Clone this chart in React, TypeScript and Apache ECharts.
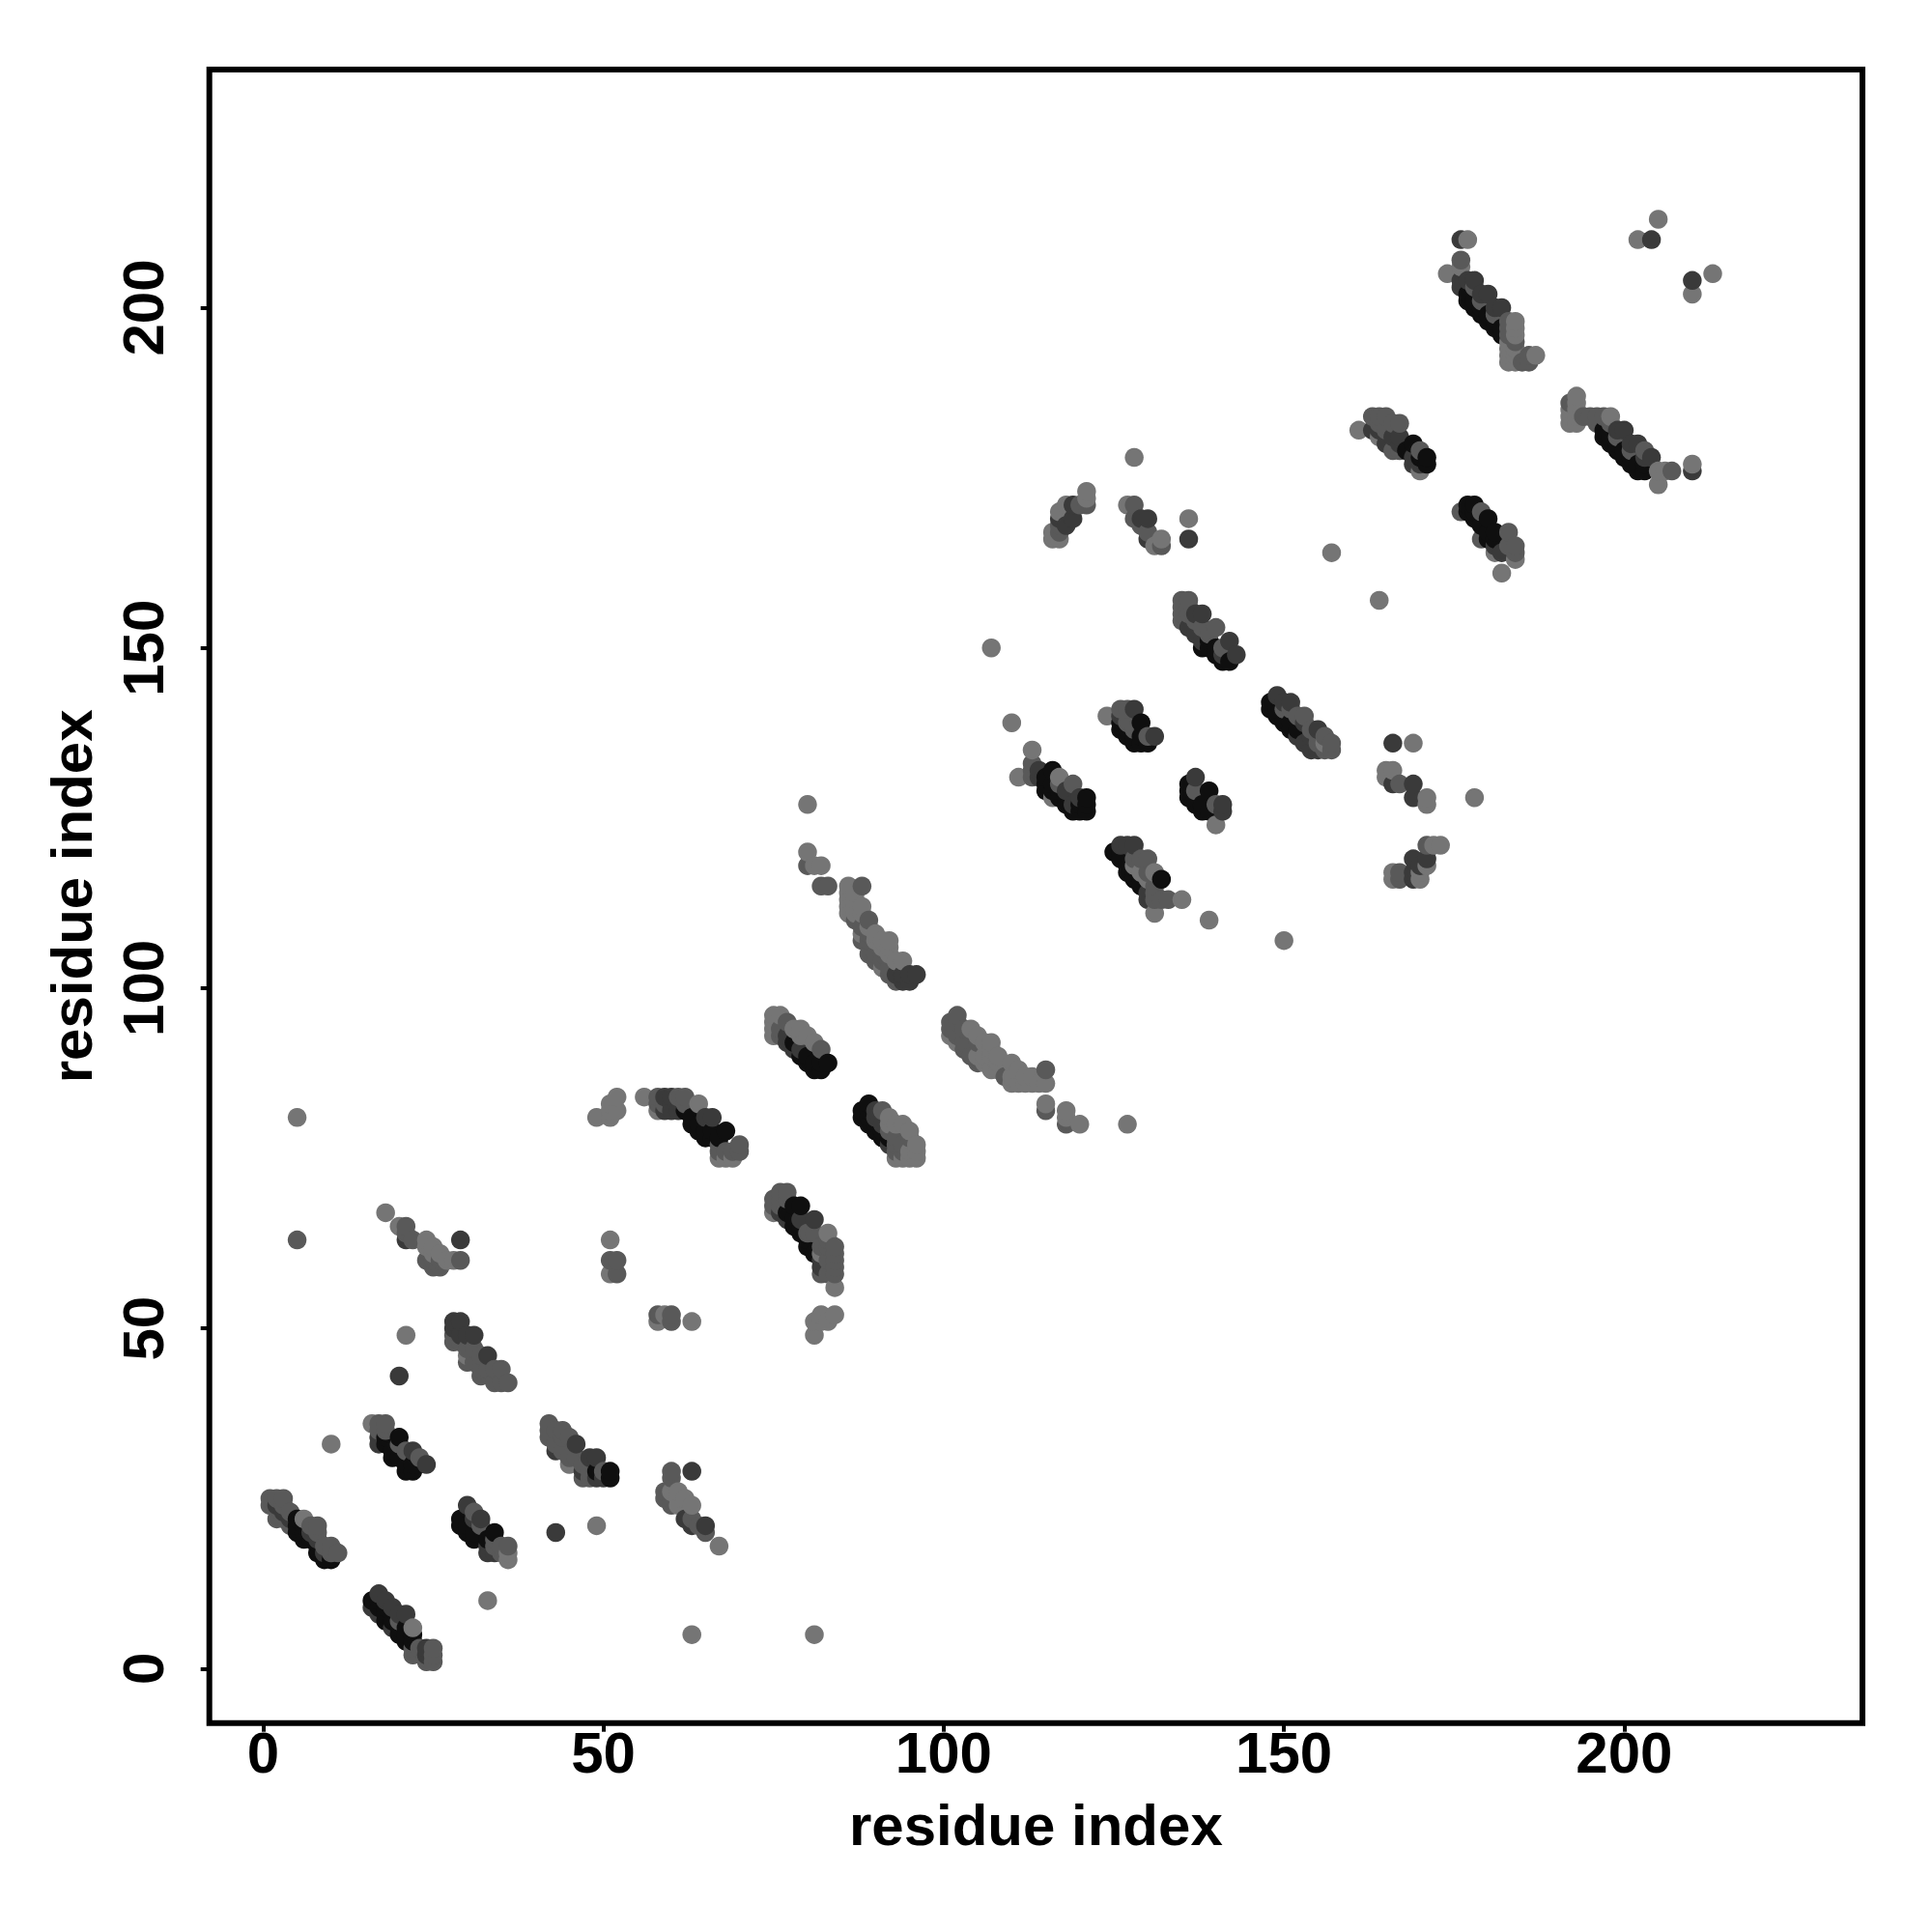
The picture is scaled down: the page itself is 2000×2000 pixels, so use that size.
import React, { useEffect, useRef } from "react";
import * as echarts from "echarts";

type P = [number, number];

const tickValues = [0, 50, 100, 150, 200];
const axisTitle = "residue index";

const lightPoints: P[] = [
  [5,81],[21,49],[10,33],[33,10],[49,21],[67,18],[63,5],[81,5],[18,67],[20,65],[6,22],[22,6],[16,36],[30,46],[36,17],[36,16],[45,30],
  [60,26],[61,26],[61,25],[62,25],[63,24],[61,24],[24,63],[25,62],[26,61],[28,60],[25,61],[24,62],[27,60],[51,63],[51,58],[58,51],[59,52],[63,51],
  [81,49],[81,51],[82,52],[83,51],[84,52],[82,51],[75,67],[83,64],[84,56],[82,61],[49,81],[51,81],[51,82],[52,84],[51,83],[52,82],[56,84],[58,82],[64,83],[67,75],[68,75],[69,75],
  [75,96],[76,96],[75,93],[75,95],[75,94],[79,94],[80,93],[81,92],[78,94],[79,93],[80,127],[80,120],[81,118],[82,118],
  [86,115],[86,114],[86,113],[86,112],[86,111],[87,113],[87,114],[87,112],[87,111],[88,111],[88,112],[88,108],[90,108],[91,107],[92,107],[91,103],[92,105],[94,104],[93,104],[91,106],[92,106],[89,109],[90,107],
  [92,81],[94,80],[93,80],[95,79],[92,80],[96,76],[96,75],[93,75],[94,75],[95,75],[95,76],[96,77],
  [101,93],[102,92],[104,94],[105,93],[106,92],[107,92],[107,91],[106,90],[107,90],[108,90],[105,90],[106,89],[107,88],[108,88],[108,89],[110,89],[111,88],[110,86],[110,87],[111,86],[112,86],[113,86],[114,86],[115,86],[115,83],[118,82],[118,81],[120,80],[127,80],[112,87],[113,87],
  [107,150],[110,139],[113,135],[111,131],[117,131],[116,128],[124,140],[131,117],[128,118],[135,113],[131,111],[130,116],[129,117],[139,110],[150,107],[140,124],
  [116,166],[117,166],[116,167],[117,170],[118,171],[121,173],[121,172],[127,171],[131,165],[132,166],[128,178],[136,169],[157,164],[164,157],[156,136],[169,136],[165,132],[166,132],[165,131],[171,128],[171,127],[178,128],
  [166,117],[166,116],[170,117],[171,118],[172,121],[173,121],[170,116],[161,182],[164,181],[170,176],[181,164],[184,163],[182,161],
  [177,210],[176,206],[174,205],[184,198],[184,197],[184,196],[183,193],[183,192],[184,193],[184,192],[187,193],[183,195],[183,194],[184,194],
  [193,187],[193,186],[192,183],[193,183],[192,184],[193,184],[192,185],[193,185],[198,184],[205,176],[205,174],[206,176],[210,177],[202,210],[205,213],[210,202],[213,205],
];

const midPoints: P[] = [
  [5,63],[1,24],[1,25],[2,25],[3,25],[2,22],[3,22],[3,24],[4,23],[7,21],[8,21],[8,20],[9,18],[10,18],[11,17],[4,21],[10,17],
  [22,2],[22,3],[23,3],[24,1],[25,1],[25,2],[25,3],[20,7],[17,36],[18,36],[18,35],[17,35],[21,32],[23,31],[20,33],
  [28,48],[28,49],[29,48],[30,47],[30,45],[31,45],[32,43],[32,44],[34,42],[35,42],[36,42],[34,44],[35,44],[33,44],[31,47],[32,46],
  [31,23],[34,18],[35,18],[36,18],[35,17],[32,21],[34,19],
  [42,36],[42,35],[42,34],[43,33],[43,35],[44,35],[44,34],[45,34],[44,32],[50,29],[47,30],[48,29],[47,28],[48,28],[45,31],[46,31],
  [60,29],[60,28],[59,26],[59,25],[60,24],[63,22],[64,21],[65,20],[60,25],
  [21,65],[22,63],[24,60],[25,59],[26,59],[25,60],[26,60],[29,60],[21,64],[51,60],[52,60],[52,58],[58,52],[60,52],[60,51],
  [76,70],[77,70],[75,69],[76,69],[75,68],[76,68],[77,69],[82,58],[84,62],[84,61],[84,60],[84,59],[84,58],[83,62],[83,60],[82,62],[83,63],[83,58],[80,64],[81,64],
  [58,84],[61,84],[62,84],[62,83],[70,77],[70,76],[67,76],[67,77],[69,76],[68,76],[58,83],[59,83],
  [82,91],[77,95],[76,94],[76,93],[82,115],[83,115],[80,118],
  [88,115],[89,110],[88,107],[89,108],[89,107],[89,105],[91,105],[90,105],[91,104],[92,103],[93,101],[90,104],[87,110],[88,109],[92,102],
  [91,82],[93,76],[95,78],[93,77],[94,76],[92,79],[93,78],[94,77],
  [102,96],[101,95],[101,94],[102,95],[103,94],[103,91],[105,92],[102,93],[104,90],[105,89],[115,88],[115,82],[118,80],[103,92],[109,87],
  [113,133],[113,131],[119,130],[113,132],[117,130],[126,141],[127,141],[128,138],[130,137],[127,139],
  [129,119],[130,119],[128,119],[131,113],[132,113],[133,113],[131,114],[131,115],[130,117],[140,127],[137,129],
  [135,157],[136,157],[135,154],[135,156],[135,155],[136,155],[140,153],[137,154],[136,156],[138,153],[139,152],[141,150],
  [117,167],[117,168],[120,171],[121,171],[128,171],[128,169],[130,167],[132,165],[129,168],
  [153,140],[152,140],[157,136],[157,135],[156,135],[150,141],[151,141],[154,138],[155,136],[155,137],[156,137],
  [167,130],[167,117],[167,116],[171,121],[163,184],[164,184],[165,184],[167,183],[166,179],[167,179],[170,179],[166,183],[164,183],[165,182],
  [176,170],[179,170],[179,166],[183,167],[184,165],[184,164],[183,165],
  [176,207],[178,203],[179,201],[181,199],[183,198],[183,197],[183,196],[184,195],[186,192],[186,193],[185,192],
  [192,186],[195,184],[196,184],[197,184],[207,176],[198,183],[199,181],[201,179],[203,179],[194,184],[196,183],
];

const darkPoints: P[] = [
  [20,43],[43,20],[2,24],[3,23],[4,22],[7,20],[8,19],[9,17],
  [16,9],[17,8],[17,11],[18,10],[19,9],[20,8],[21,8],[24,3],[24,2],[19,6],[17,33],[17,34],[22,32],[24,30],
  [28,51],[29,51],[28,50],[30,49],[31,49],[33,46],[29,49],[30,24],[32,22],[33,17],[34,17],[31,22],[33,18],
  [43,32],[46,33],[48,31],[49,31],[47,29],[49,28],[50,28],[63,29],[63,21],[65,21],[62,22],[21,63],[29,63],
  [81,66],[76,67],[77,66],[82,60],[79,66],[82,59],[59,84],[60,84],[60,82],[60,83],[59,82],[66,81],[65,81],[61,82],
  [77,93],[77,92],[78,91],[79,91],[94,101],[95,101],[96,102],[95,102],[94,102],[93,102],[90,82],[90,81],[92,77],[91,80],
  [114,132],[114,131],[118,129],[120,128],[119,127],[126,140],[131,137],[128,141],[127,121],[128,121],[126,121],[130,113],[130,114],
  [137,131],[141,127],[141,126],[137,152],[138,155],[142,151],[143,149],[136,153],[137,155],[138,151],[141,149],
  [119,171],[119,169],[117,169],[118,168],[130,169],[130,166],[136,166],[129,169],
  [149,143],[151,142],[152,137],[155,138],[154,135],[155,135],[150,142],[153,136],[153,139],[154,137],
  [166,136],[166,130],[169,130],[169,128],[169,119],[169,117],[171,119],[169,116],[170,118],
  [163,182],[167,181],[169,177],[165,180],[167,180],[164,182],[166,181],[169,178],[170,177],[182,164],[181,165],
  [176,210],[177,204],[178,204],[176,204],[176,203],[180,202],[179,202],[182,200],[181,200],[200,182],[202,180],[204,178],[199,182],[201,180],[203,178],[210,176],[204,210],[210,204],
];

const blackPoints: P[] = [
  [5,20],[5,21],[6,20],[6,19],[7,19],[8,18],[9,16],[10,16],[5,22],[6,21],[8,17],
  [16,10],[17,9],[17,10],[18,7],[18,8],[18,9],[19,7],[20,5],[20,6],[21,5],[21,6],[22,4],[21,4],[22,5],
  [18,33],[18,34],[20,34],[19,32],[20,31],[21,30],[21,29],[22,29],[22,30],[19,31],
  [29,21],[29,22],[30,20],[30,21],[31,20],[31,19],[34,20],[33,19],[51,29],[51,28],[49,29],
  [78,68],[79,68],[77,67],[78,66],[78,65],[79,64],[80,63],[79,65],[80,62],[81,61],
  [63,81],[65,79],[68,79],[62,82],[63,80],[64,79],[64,80],[66,78],[66,79],[67,78],[65,78],
  [78,92],[79,90],[80,90],[80,89],[81,88],[82,88],[83,89],[81,89],[82,89],
  [89,83],[88,82],[88,81],[89,82],[89,81],[89,80],[90,80],[90,79],[91,78],[91,79],[92,78],
  [116,132],[116,130],[115,131],[115,129],[115,130],[116,129],[117,128],[118,127],[118,128],[119,126],[120,126],[120,127],[121,128],[121,127],[121,126],[117,129],
  [126,139],[126,138],[127,138],[127,137],[128,136],[129,136],[130,136],[129,139],[129,137],[128,137],
  [125,120],[126,120],[126,119],[127,118],[128,116],[127,117],[128,117],[129,115],[129,116],[132,116],
  [136,130],[136,128],[136,129],[137,128],[137,127],[138,126],[138,127],[139,129],[139,126],
  [139,150],[141,148],[142,148],[138,150],[140,149],[140,150],[139,151],
  [148,142],[148,141],[150,139],[149,140],[149,141],[151,138],[151,139],[152,138],
  [169,180],[171,178],[171,177],[168,179],[170,178],
  [177,171],[178,171],[177,170],[178,169],[180,169],[181,167],[180,166],[178,170],[179,168],[180,167],[181,166],
  [177,201],[177,202],[178,201],[178,200],[179,199],[179,200],[180,199],[180,198],[181,197],[181,198],[182,197],[182,196],
  [197,182],[197,181],[198,180],[198,181],[199,179],[199,180],[200,178],[200,179],[201,177],[201,178],[202,176],[202,177],[203,176],[203,177],
];

const levels: [P[], string][] = [
  [blackPoints, "#0f0f0f"],
  [darkPoints, "#3a3a3a"],
  [midPoints, "#595959"],
  [lightPoints, "#757575"],
];

const font = "Liberation Sans";

export default function App() {
  const ref = useRef<HTMLDivElement>(null);
  useEffect(() => {
    const chart = echarts.init(ref.current!, undefined, { renderer: "svg" });
    const data = levels
      .flatMap(([pts, color]) =>
        pts.map((p) => ({ value: p, itemStyle: { color } }))
      )
      .sort((a, b) => a.value[0] - b.value[0] || a.value[1] - b.value[1]);
    const axis = {
      type: "value" as const,
      scale: false,
      splitLine: { show: false },
      axisLine: { show: false, onZero: false },
      axisTick: { show: true, length: 9, inside: false, customValues: tickValues, lineStyle: { color: "#000", width: 4 } },
      name: axisTitle,
      nameLocation: "middle" as const,
      nameTextStyle: { fontFamily: font, fontWeight: "bold" as const, fontSize: 60, color: "#000" },
    };
    chart.setOption({
      animation: false,
      backgroundColor: "#fff",
      grid: { left: 216.7, right: 72, top: 72, bottom: 216.3, show: true, borderColor: "#000", borderWidth: 6, backgroundColor: "transparent" },
      xAxis: {
        ...axis,
        min: -7.9,
        max: 235,
        nameGap: 76,
        axisLabel: { customValues: tickValues, margin: 1, fontFamily: font, fontWeight: "bold", fontSize: 60, color: "#000" },
      },
      yAxis: {
        ...axis,
        min: -8,
        max: 235,
        nameGap: 112,
        nameRotate: 90,
        axisLabel: { customValues: tickValues, margin: 38, rotate: 90, fontFamily: font, fontWeight: "bold", fontSize: 60, color: "#000" },
      },
      series: [
        {
          type: "scatter",
          symbol: "circle",
          symbolSize: 19.5,
          data,
          clip: false,
          itemStyle: { opacity: 1 },
        },
      ],
    });
    return () => chart.dispose();
  }, []);
  return <div ref={ref} style={{ position: "absolute", left: 0, top: 0, width: 2000, height: 2000 }} />;
}
